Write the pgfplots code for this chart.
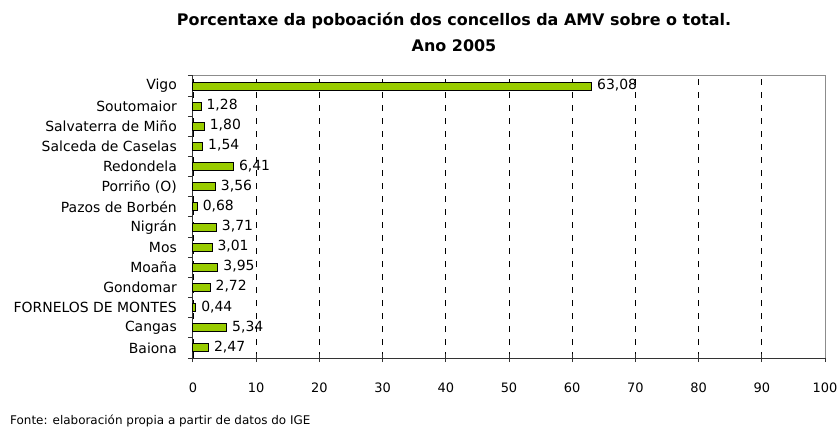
\documentclass[border=0pt]{standalone}
\usepackage{pgfplots}
\pgfplotsset{compat=1.18}
\usepackage{fontspec}
\setmainfont{DejaVu Sans}
\definecolor{barg}{HTML}{99CC00}
\begin{document}
\begin{tikzpicture}
\begin{axis}[
  scale only axis, width=632bp, height=282bp,
  xbar, bar width=8bp, bar shift=0pt,
  xmin=0, xmax=100, ymin=-0.5, ymax=13.5,
  clip=false,
  axis x line*=bottom, axis y line*=left,
  axis line style={black!80, line width=1bp},
  xtick={0,10,...,100},
  ytick={0,...,13},
  yticklabels={Baiona,Cangas,FORNELOS DE MONTES,Gondomar,Moaña,Mos,Nigrán,Pazos de Borbén,Porriño (O),Redondela,Salceda de Caselas,Salvaterra de Miño,Soutomaior,Vigo},
  minor ytick={-0.5,0.5,...,13.5},
  major y tick style={draw=none},
  minor y tick style={black!80, line width=1bp},
  minor tick length=5bp,
  ytick align=outside,
  xtick align=center,
  major x tick style={black!80, line width=1bp},
  major tick length=8bp,
  xmajorgrids,
  grid style={black, line width=0.8bp, dash pattern=on 6bp off 7bp},
  yticklabel style={font=\fontsize{14}{16}\selectfont, inner sep=0pt, anchor=east, xshift=-8bp},
  xticklabel style={font=\fontsize{13}{15}\selectfont, inner sep=0pt, anchor=base, yshift=-30bp},
  /pgf/number format/assume math mode=true,
  point meta=x,
  nodes near coords={\pgfmathprintnumber[use comma,fixed,fixed zerofill,precision=2,assume math mode=true]{\pgfplotspointmeta}},
  every node near coord/.append style={font=\fontsize{14}{16}\selectfont, anchor=west, inner sep=0pt, xshift=5bp, yshift=1bp},
]
\addplot[fill=barg, draw=black, line width=1bp] coordinates {
  (2.47,0) (5.34,1) (0.44,2) (2.72,3) (3.95,4) (3.01,5) (3.71,6)
  (0.68,7) (3.56,8) (6.41,9) (1.54,10) (1.80,11) (1.28,12) (63.08,13)
};
\draw[black!45, line width=1bp] (rel axis cs:0,1) -- (rel axis cs:1,1) -- (rel axis cs:1,0);
\coordinate (A) at (rel axis cs:0,0);
\coordinate (B) at (rel axis cs:1,1);
\node[font=\bfseries\fontsize{16}{18}\selectfont] at ([xshift=261bp,yshift=55bp]rel axis cs:0,1) {Porcentaxe da poboación dos concellos da AMV sobre o total.};
\node[font=\bfseries\fontsize{16}{18}\selectfont] at ([xshift=261bp,yshift=30bp]rel axis cs:0,1) {Ano 2005};
\node[font=\fontsize{12}{14}\selectfont, anchor=west, inner sep=0pt] at ([xshift=-183bp,yshift=-63bp]rel axis cs:0,0) {Fonte: elaboración propia a partir de datos do IGE};
\end{axis}
\pgfresetboundingbox
\path[use as bounding box] ([xshift=-193bp,yshift=-72bp]A) rectangle ([xshift=12bp,yshift=76bp]B);
\end{tikzpicture}
\end{document}
